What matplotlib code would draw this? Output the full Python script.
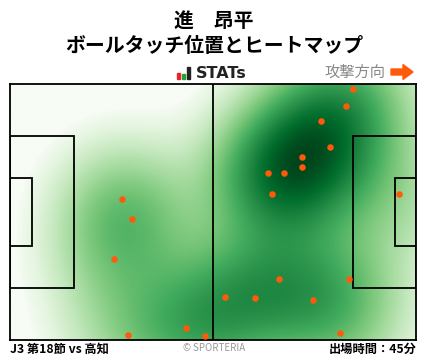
import matplotlib.pyplot as plt
import matplotlib.patches as patches
from matplotlib.colors import PowerNorm
import numpy as np

plt.rcParams['font.family'] = ['Noto Sans CJK JP', 'DejaVu Sans']

player = '進　昂平'
title = 'ボールタッチ位置とヒートマップ'
match_info = 'J3 第18節 vs 高知'
play_time = '出場時間：45分'

# ball touch positions in pitch metres (x: 0-105 attacking right, y: 0-68 from bottom)
touch_x = [29.0, 31.5, 26.9, 30.4, 45.5, 50.4, 88.7, 86.7, 80.4, 82.8, 75.5,
           75.5, 66.7, 70.9, 67.8, 100.6, 69.6, 87.6, 55.6, 63.4, 78.4, 85.3]
touch_y = [37.4, 32.1, 21.4, 1.2, 3.1, 1.0, 66.6, 62.1, 58.1, 51.2, 48.5,
           45.9, 44.3, 44.3, 38.7, 38.7, 16.1, 16.1, 11.3, 11.1, 10.5, 1.8]

L, W = 105.0, 68.0

fig = plt.figure(figsize=(4.28, 3.59), dpi=100)
ax = fig.add_axes([10.3 / 428, 19 / 359, 406 / 428, 256 / 359])

# heatmap (gaussian kernel density of the touches)
gx = np.linspace(0, L, 300)
gy = np.linspace(0, W, 200)
X, Y = np.meshgrid(gx, gy)
tx = np.array(touch_x)
ty = np.array(touch_y)
h = 12.0
Z = np.zeros_like(X)
for a, b in zip(tx, ty):
    Z += np.exp(-((X - a) ** 2 + (Y - b) ** 2) / (2 * h * h))
Z = Z / Z.max()
ax.imshow(Z, extent=[0, L, 0, W], origin='lower', cmap='Greens',
          norm=PowerNorm(gamma=0.62, vmin=0.03, vmax=1.0), aspect='auto',
          interpolation='bilinear')

lc = 'black'
lw = 1.3
ax.plot([L / 2, L / 2], [0, W], color=lc, lw=lw)
pa_w, pa_d = 40.3, 16.5
ga_w, ga_d = 18.32, 5.5
for x0, d in [(0, pa_d), (L - pa_d, pa_d)]:
    ax.add_patch(patches.Rectangle((x0, (W - pa_w) / 2), d, pa_w, fill=False, ec=lc, lw=lw))
for x0, d in [(0, ga_d), (L - ga_d, ga_d)]:
    ax.add_patch(patches.Rectangle((x0, (W - ga_w) / 2), d, ga_w, fill=False, ec=lc, lw=lw))

ax.scatter(tx, ty, s=22, color='#ff5a0a', zorder=5, linewidths=0)

ax.set_xlim(0, L)
ax.set_ylim(0, W)
ax.set_xticks([])
ax.set_yticks([])
for s in ax.spines.values():
    s.set_linewidth(lw)

# header
fig.text(0.5, 1 - 20 / 359, player, ha='center', va='center', fontsize=14.3, fontweight='bold')
fig.text(0.5, 1 - 45 / 359, title, ha='center', va='center', fontsize=14.3, fontweight='bold')

# STATs logo
for x0, c, hh in [(177, '#e8262a', 6), (181.5, '#23a33c', 5), (186.5, '#222222', 12)]:
    fig.add_artist(patches.Rectangle((x0 / 428, (359 - 79) / 359), 3.3 / 428, hh / 359,
                                     color=c, transform=fig.transFigure))
fig.text(196 / 428, 1 - 73 / 359, 'STATs', ha='left', va='center', fontsize=11.5,
         fontweight='bold', family=['DejaVu Sans'], color='#222222')

fig.text(385 / 428, 1 - 72 / 359, '攻撃方向', ha='right', va='center', fontsize=11, color='#888888')
fig.add_artist(patches.FancyArrow(391 / 428, 1 - 72 / 359, 12 / 428, 0, width=6 / 359,
                                  head_width=15 / 359, head_length=10 / 428,
                                  length_includes_head=False, color='#ff5a0a',
                                  transform=fig.transFigure))

# footer
fig.text(10 / 428, 1 - 349 / 359, match_info, ha='left', va='center', fontsize=8.8, fontweight='bold')
fig.text(0.5, 1 - 348 / 359, '© SPORTERIA', ha='center', va='center', fontsize=7, color='#999999')
fig.text(417 / 428, 1 - 349 / 359, play_time, ha='right', va='center', fontsize=8.8, fontweight='bold')

fig.savefig('out.png', dpi=100)
